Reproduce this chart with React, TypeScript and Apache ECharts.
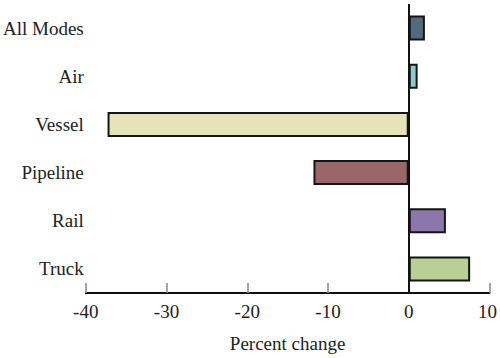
import React, { useEffect, useRef } from "react";
import * as echarts from "echarts";

const categories = ["All Modes", "Air", "Vessel", "Pipeline", "Rail", "Truck"];
const values = [2.0, 1.1, -37.3, -11.8, 4.6, 7.6];
const xTicks = [-40, -30, -20, -10, 0, 10];
const xAxisName = "Percent change";
const palette = ["#536a7e", "#88cdc9", "#e6e3b8", "#9a6669", "#8c77aa", "#b8cf95"];

export default function App() {
  const ref = useRef<HTMLDivElement>(null);
  useEffect(() => {
    document.body.style.margin = "0";
    document.body.style.overflow = "hidden";
    if (!ref.current) return;
    const chart = echarts.init(ref.current, undefined, { renderer: "svg" });
    const font = "'Liberation Serif', 'Times New Roman', serif";
    const maxTick = xTicks[xTicks.length - 1];
    chart.setOption({
      animation: false,
      grid: { left: 84, right: 9, top: 4, bottom: 64 },
      xAxis: {
        type: "value",
        min: xTicks[0],
        max: maxTick,
        interval: 10,
        name: xAxisName,
        nameLocation: "middle",
        nameGap: 41,
        nameTextStyle: { fontFamily: font, fontSize: 19, color: "#222" },
        axisLine: { show: true, lineStyle: { color: "#111", width: 2 } },
        axisTick: { show: true, inside: true, length: 10, lineStyle: { color: "#888", width: 1.5 } },
        axisLabel: {
          fontFamily: font,
          fontSize: 19,
          color: "#222",
          margin: 9,
          formatter: (v: number) => (v === maxTick ? "{last|" + v + "}" : String(v)),
          rich: {
            last: { fontFamily: font, fontSize: 19, color: "#222", padding: [0, 4, 0, 0] },
          },
        },
        splitLine: { show: false },
      },
      yAxis: {
        type: "category",
        inverse: true,
        data: categories,
        axisLine: { show: false },
        axisTick: { show: false },
        axisLabel: { fontFamily: font, fontSize: 19, color: "#222", margin: 2 },
      },
      series: [
        {
          type: "bar",
          barCategoryGap: "48%",
          data: values.map((v, i) => ({
            value: v,
            itemStyle: { color: palette[i], borderColor: "#151515", borderWidth: 2 },
          })),
          emphasis: { disabled: true },
          markLine: {
            silent: true,
            symbol: ["none", "none"],
            label: { show: false },
            lineStyle: { color: "#111", width: 2, type: "solid" },
            data: [{ xAxis: 0 }],
          },
        },
      ],
    });
    return () => chart.dispose();
  }, []);
  return <div ref={ref} style={{ width: 500, height: 358 }} />;
}
